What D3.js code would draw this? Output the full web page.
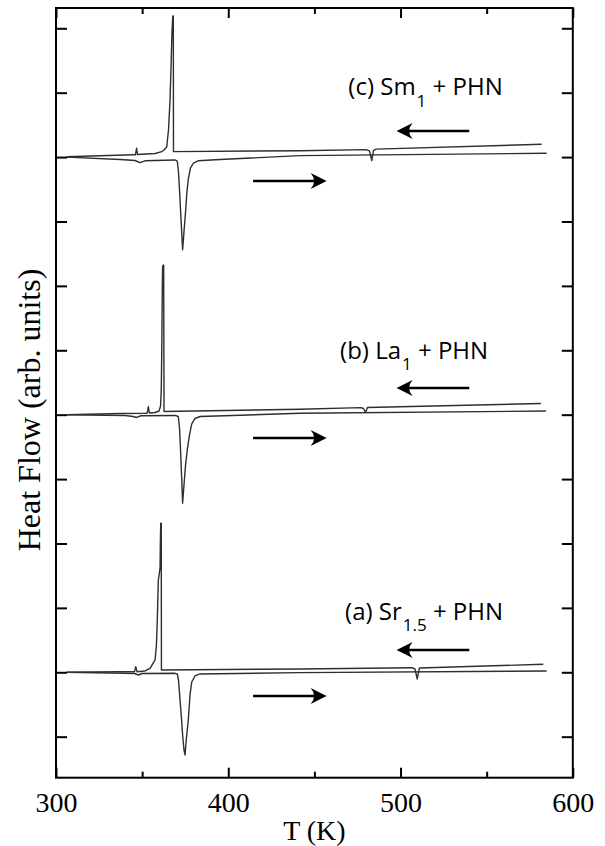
<!DOCTYPE html>
<html>
<head>
<meta charset="utf-8">
<script src="https://cdn.jsdelivr.net/npm/d3@7"></script>
<style>
  body { margin: 0; background: #fff; }
  svg { display: block; }
</style>
</head>
<body>
<svg id="chart" width="605" height="846"></svg>
<script>
// DSC heat-flow curves (cooling and heating runs) for three samples.
// Each curve is [T (K), heat flow relative to the sample's baseline].

// Vertical shift of each sample's pair of curves (arb. units)
const sampleOffsets = [0, 4, 8];

const sampleNames = [
  { main: "(a) Sr", sub: "1.5", tail: " + PHN" },
  { main: "(b) La", sub: "1",   tail: " + PHN" },
  { main: "(c) Sm", sub: "1",   tail: " + PHN" }
];

// (a) Sr1.5 + PHN
const coolingA = [
  [306.2, 0.000], [337.2, 0.008], [345.6, 0.009], [346.3, 0.087], [347.0, 0.009],
  [351.7, 0.020], [354.6, 0.062], [357.5, 0.191], [358.3, 0.424], [358.8, 0.812],
  [359.4, 1.433], [360.0, 1.537], [360.4, 1.620], [360.6, 2.054], [360.8, 2.314],
  [361.1, 2.314], [361.2, 0.036], [441.6, 0.051], [506.7, 0.071], [508.4, 0.051],
  [509.7, -0.104], [511.0, 0.067], [582.9, 0.124]
];
const heatingA = [
  [306.2, 0.000], [340.1, -0.016], [345.6, -0.019], [347.8, -0.042], [349.9, -0.019],
  [369.1, -0.016], [370.4, -0.026], [371.1, -0.120], [372.0, -0.430], [372.9, -0.740],
  [373.5, -0.974], [374.3, -1.207], [374.9, -1.284], [375.6, -1.051], [376.8, -0.741],
  [377.8, -0.352], [378.8, -0.151], [380.7, -0.057], [383.6, -0.026], [441.6, -0.006],
  [584.8, 0.020]
];

// (b) La1 + PHN
const coolingB = [
  [306.2, 0.000], [337.2, 0.019], [351.7, 0.022], [353.0, 0.026], [353.6, 0.124],
  [354.2, 0.026], [357.5, 0.034], [359.8, 0.057], [360.7, 0.135], [361.1, 0.384],
  [361.4, 1.005], [361.7, 1.937], [361.9, 2.310], [362.5, 2.326], [362.7, 0.050],
  [441.6, 0.084], [477.0, 0.110], [478.5, 0.096], [479.7, 0.034], [480.8, 0.112],
  [581.5, 0.174]
];
const heatingB = [
  [306.2, 0.000], [340.1, -0.012], [344.7, -0.028], [346.8, -0.043], [349.3, -0.017],
  [369.1, -0.012], [371.0, -0.028], [371.7, -0.207], [372.3, -0.550], [373.0, -1.014],
  [373.5, -1.376], [374.3, -1.093], [375.2, -0.781], [376.2, -0.548], [377.5, -0.315],
  [378.8, -0.144], [380.7, -0.059], [383.6, -0.028], [441.6, 0.022], [584.4, 0.057]
];

// (c) Sm1 + PHN
const coolingC = [
  [306.2, 0.006], [344.7, 0.036], [346.1, 0.037], [346.8, 0.137], [347.3, 0.039],
  [357.5, 0.056], [361.4, 0.084], [363.0, 0.118], [364.3, 0.161], [365.3, 0.421],
  [366.2, 0.887], [366.9, 1.508], [367.3, 1.927], [367.8, 2.191], [368.1, 2.191],
  [368.2, 0.084], [441.6, 0.099], [479.9, 0.116], [482.0, 0.095], [483.3, -0.056],
  [484.3, 0.102], [485.8, 0.123], [581.9, 0.199]
];
const heatingC = [
  [306.2, 0.000], [337.2, -0.037], [345.9, -0.053], [348.8, -0.087], [351.7, -0.058],
  [369.1, -0.045], [370.4, -0.061], [371.1, -0.231], [371.7, -0.511], [372.6, -0.977],
  [373.5, -1.440], [374.3, -1.160], [375.2, -0.853], [376.0, -0.542], [376.9, -0.325],
  [378.1, -0.169], [379.8, -0.092], [382.4, -0.057], [395.2, -0.037], [441.6, 0.022],
  [584.8, 0.059]
];

const coolingRuns = [coolingA, coolingB, coolingC];
const heatingRuns = [heatingA, heatingB, heatingC];

const xMajorTicks = [300, 400, 500, 600];
const xMinorTicks = [350, 450, 550];
const yTicks = [-1, 0, 1, 2, 3, 4, 5, 6, 7, 8, 9, 10];

// ---------------------------------------------------------------------------
const plot = { left: 56, right: 572.8, top: 8, bottom: 777.7 };

const svg = d3.select("#chart");

const x = d3.scaleLinear().domain([300, 600]).range([plot.left, plot.right]);
const y = d3.scaleLinear().domain([-1.637, 10.315]).range([plot.bottom, plot.top]);

const serif = "'Liberation Serif', 'Times New Roman', serif";
const sans = "'Open Sans', sans-serif";

function styleAxis(g) {
  g.select(".domain").remove();
  g.selectAll(".tick line").attr("stroke", "#000").attr("stroke-width", 2);
}

// Bottom axis with labels
svg.append("g")
  .attr("transform", `translate(0,${plot.bottom})`)
  .call(d3.axisBottom(x).tickValues(xMajorTicks).tickSizeInner(-10).tickSizeOuter(0)
    .tickPadding(14).tickFormat(d3.format("d")))
  .call(styleAxis)
  .call(g => g.selectAll(".tick text")
    .attr("font-family", serif).attr("font-size", 28).attr("fill", "#000"));
svg.append("g")
  .attr("transform", `translate(0,${plot.bottom})`)
  .call(d3.axisBottom(x).tickValues(xMinorTicks).tickSizeInner(-6).tickSizeOuter(0).tickFormat(""))
  .call(styleAxis);

// Top mirror ticks
svg.append("g")
  .attr("transform", `translate(0,${plot.top})`)
  .call(d3.axisTop(x).tickValues(xMajorTicks).tickSizeInner(-10).tickSizeOuter(0).tickFormat(""))
  .call(styleAxis);
svg.append("g")
  .attr("transform", `translate(0,${plot.top})`)
  .call(d3.axisTop(x).tickValues(xMinorTicks).tickSizeInner(-6).tickSizeOuter(0).tickFormat(""))
  .call(styleAxis);

// Left and right ticks (no labels)
svg.append("g")
  .attr("transform", `translate(${plot.left},0)`)
  .call(d3.axisLeft(y).tickValues(yTicks).tickSizeInner(-11).tickSizeOuter(0).tickFormat(""))
  .call(styleAxis);
svg.append("g")
  .attr("transform", `translate(${plot.right},0)`)
  .call(d3.axisRight(y).tickValues(yTicks).tickSizeInner(-11).tickSizeOuter(0).tickFormat(""))
  .call(styleAxis);

// Frame
svg.append("rect")
  .attr("x", plot.left).attr("y", plot.top)
  .attr("width", plot.right - plot.left).attr("height", plot.bottom - plot.top)
  .attr("fill", "none").attr("stroke", "#000").attr("stroke-width", 2);

// Axis titles
svg.append("text")
  .attr("x", (plot.left + plot.right) / 2).attr("y", 840)
  .attr("text-anchor", "middle")
  .attr("font-family", serif).attr("font-size", 28)
  .text("T (K)");
svg.append("text")
  .attr("transform", "translate(40,410) rotate(-90)")
  .attr("text-anchor", "middle")
  .attr("font-family", serif).attr("font-size", 32)
  .text("Heat Flow (arb. units)");

// Curves
const curves = svg.append("g")
  .attr("fill", "none").attr("stroke", "#2e2e2e").attr("stroke-width", 1.4)
  .attr("stroke-linejoin", "round");

sampleOffsets.forEach((off, i) => {
  const line = d3.line().x(d => x(d[0])).y(d => y(d[1] + off));
  curves.append("path").attr("d", line(coolingRuns[i]));
  curves.append("path").attr("d", line(heatingRuns[i]));
});

// Sample labels: start temperature and baseline height
const labelAt = [[467.8, 0.812], [464.9, 4.865], [469.7, 8.964]];
sampleNames.forEach((s, i) => {
  const t = svg.append("text")
    .attr("x", x(labelAt[i][0]))
    .attr("y", y(labelAt[i][1]))
    .attr("font-family", sans).attr("font-size", 24).attr("fill", "#000");
  t.append("tspan").text(s.main);
  t.append("tspan").attr("dx", 1).attr("dy", 11.5).attr("font-size", 17).text(s.sub);
  t.append("tspan").attr("dy", -11.5).text(s.tail);
});

// Scan-direction arrows: cooling (leftward, above) and heating (rightward, below)
const coolArrowLevel = [0.346, 4.415, 8.405];
const heatArrowLevel = [-0.368, 3.638, 7.629];

function arrow(t0, t1, level) {
  const x0 = x(t0), x1 = x(t1), yy = y(level);
  const dir = Math.sign(x1 - x0);
  const g = svg.append("g");
  g.append("line")
    .attr("x1", x0).attr("y1", yy).attr("x2", x1 - dir * 8).attr("y2", yy)
    .attr("stroke", "#000").attr("stroke-width", 2.6);
  const back = x1 - dir * 16, notch = x1 - dir * 9;
  g.append("path")
    .attr("d", `M${x1},${yy} L${back},${yy - 8} Q${notch},${yy} ${back},${yy + 8} Z`)
    .attr("fill", "#000");
}

sampleOffsets.forEach((off, i) => {
  arrow(539.9, 497.7, coolArrowLevel[i]);
  arrow(414.4, 457.1, heatArrowLevel[i]);
});
</script>
</body>
</html>
